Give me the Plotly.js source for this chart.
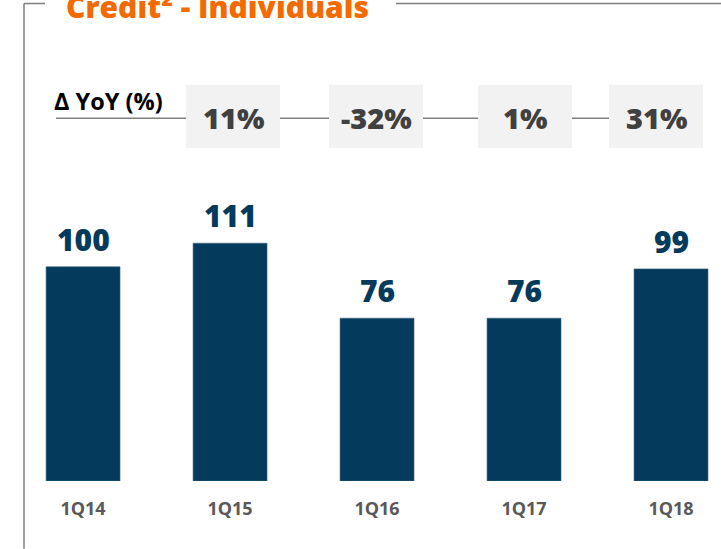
<!DOCTYPE html>
<html>
<head>
<meta charset="utf-8">
<script src="https://cdn.plot.ly/plotly-3.0.1.min.js"></script>
<style>html,body{margin:0;padding:0;background:#fff;}#chart{width:721px;height:549px;}</style>
</head>
<body>
<div id="chart"></div>
<script>
// ---- data ----
const categories = ['1Q14', '1Q15', '1Q16', '1Q17', '1Q18'];
const values = [100, 111, 76, 76, 99];
const yoyLabels = ['11%', '-32%', '1%', '31%'];
const titleText = 'Credit² - Individuals';
const yoyHeader = 'Δ YoY (%)';

// ---- layout constants (pixels) ----
const W = 721, H = 549;
const ML = 10, MB = 67.7;
const plotW = W - ML, plotH = H - MB;
const px = x => (x - ML) / plotW;          // pixel -> paper x
const py = y => (plotH - y) / plotH;        // pixel -> paper y

const FONT = 'Open Sans, Liberation Sans, Arial, sans-serif';
const barColor = '#043A5C';
const frameColor = '#7F7F7F';

const boxCenters = [233, 376, 525, 656];
const boxW = 94, boxTop = 85, boxBot = 148, lineY = 118.3;

const shapes = [];
// frame
shapes.push({type:'line', xref:'paper', yref:'paper', x0:px(24), x1:px(24), y0:py(3.5), y1:py(549), line:{color:frameColor, width:1.5}});
shapes.push({type:'line', xref:'paper', yref:'paper', x0:px(24), x1:px(45), y0:py(3.5), y1:py(3.5), line:{color:frameColor, width:1.5}});
shapes.push({type:'line', xref:'paper', yref:'paper', x0:px(396), x1:px(721), y0:py(3.5), y1:py(3.5), line:{color:frameColor, width:1.5}});
// yoy line
shapes.push({type:'line', xref:'paper', yref:'paper', x0:px(56), x1:px(609), y0:py(lineY), y1:py(lineY), line:{color:frameColor, width:1.3}});
// yoy boxes
boxCenters.forEach(c => {
  shapes.push({type:'rect', xref:'paper', yref:'paper', x0:px(c - boxW/2), x1:px(c + boxW/2), y0:py(boxBot), y1:py(boxTop), fillcolor:'#F2F2F2', line:{width:0}});
});

const annotations = [];
// title
annotations.push({xref:'paper', yref:'paper', x:px(64), y:py(7), xanchor:'left', yanchor:'middle', showarrow:false,
  text:titleText, font:{family:FONT, size:30, weight:800, color:'#F26A00'}});
// yoy header
annotations.push({xref:'paper', yref:'paper', x:px(52), y:py(101), xanchor:'left', yanchor:'middle', showarrow:false,
  text:yoyHeader, font:{family:FONT, size:23.5, weight:700, color:'#000000'}});
// yoy values
yoyLabels.forEach((t, i) => {
  annotations.push({xref:'paper', yref:'paper', x:px(boxCenters[i]), y:py(118), xanchor:'center', yanchor:'middle', showarrow:false,
    text:t, font:{family:FONT, size:29, weight:800, color:'#404040'}});
});
// value labels
categories.forEach((c, i) => {
  annotations.push({xref:'x', yref:'y', x:c, y:values[i], xanchor:'center', yanchor:'bottom', yshift:5, showarrow:false,
    text:String(values[i]), font:{family:FONT, size:30, weight:800, color:barColor}});
});

const trace = {
  type:'bar', x:categories, y:values,
  marker:{color:barColor, line:{color:'#3E6784', width:0.6}},
  hoverinfo:'none'
};

const layout = {
  width:W, height:H,
  margin:{l:ML, r:0, t:0, b:MB, pad:0},
  paper_bgcolor:'#ffffff', plot_bgcolor:'#ffffff',
  showlegend:false,
  bargap:0.497,
  xaxis:{type:'category', range:[-0.497, 4.34], showgrid:false, zeroline:false, showline:false,
    ticks:'outside', ticklen:11, tickcolor:'rgba(0,0,0,0)',
    tickfont:{family:FONT, size:18, weight:700, color:'#595959'}},
  yaxis:{range:[0, 224.5], visible:false, showgrid:false, zeroline:false},
  shapes:shapes,
  annotations:annotations
};

Plotly.newPlot('chart', [trace], layout, {staticPlot:true, displayModeBar:false});
</script>
</body>
</html>
